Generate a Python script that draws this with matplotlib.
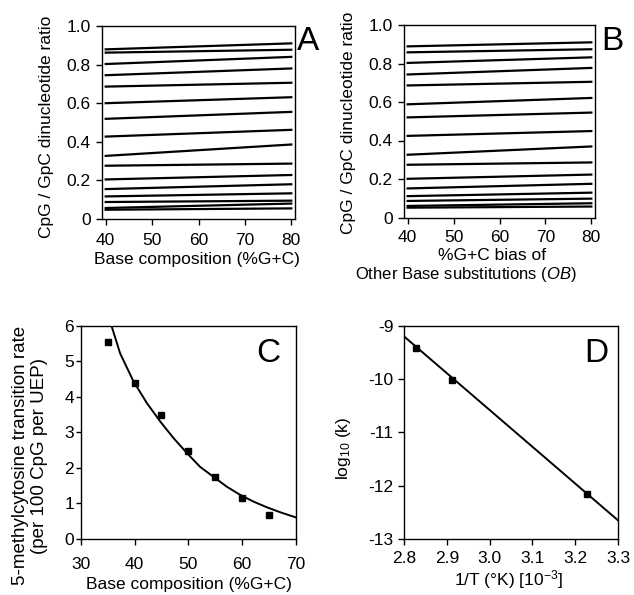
import matplotlib
matplotlib.use("Agg")
import matplotlib.pyplot as plt
import numpy as np

plt.rcParams['font.family'] = ['Liberation Sans', 'DejaVu Sans']
plt.rcParams['axes.unicode_minus'] = False
plt.rcParams['mathtext.fontset'] = 'custom'
plt.rcParams['mathtext.rm'] = 'Liberation Sans'
plt.rcParams['mathtext.it'] = 'Liberation Sans:italic'

# Panel A: CpG/GpC ratio lines vs base composition
a_x = [40, 80]
a_left = [0.879, 0.862, 0.803, 0.745, 0.686, 0.600, 0.519, 0.427, 0.327, 0.276,
          0.205, 0.155, 0.117, 0.088, 0.057, 0.048]
a_right = [0.910, 0.877, 0.840, 0.780, 0.706, 0.631, 0.555, 0.462, 0.386, 0.287,
           0.228, 0.180, 0.133, 0.095, 0.080, 0.055]

# Panel B: CpG/GpC ratio lines vs OB bias
b_x = [40, 80]
b_left = [0.889, 0.858, 0.803, 0.743, 0.686, 0.588, 0.520, 0.424, 0.326, 0.274,
          0.201, 0.151, 0.111, 0.086, 0.060, 0.051]
b_right = [0.910, 0.874, 0.832, 0.777, 0.705, 0.621, 0.545, 0.449, 0.369, 0.286,
           0.223, 0.175, 0.129, 0.098, 0.074, 0.057]

# Panel C: 5-methylcytosine transition rate
c_x = [35, 40, 45, 50, 55, 60, 65]
c_y = [5.53, 4.40, 3.49, 2.48, 1.74, 1.16, 0.67]
c_fit_x = [35.7, 37.3, 39.8, 42.3, 44.8, 47.3, 49.8, 52.2, 54.7, 57.2,
           59.7, 62.2, 64.7, 67.2, 70.0]
c_fit_y = [5.99, 5.22, 4.43, 3.82, 3.30, 2.83, 2.41, 2.03, 1.75, 1.47,
           1.24, 1.05, 0.89, 0.75, 0.61]

# Panel D: Arrhenius plot
d_x = [2.829, 2.913, 3.228]
d_y = [-9.41, -10.01, -12.15]
d_fit_x = [2.8, 3.3]
d_fit_y = [-9.2, -12.65]

W, H = 634, 595
fig = plt.figure(figsize=(W / 100, H / 100), dpi=100)

def ax_at(l, r, t, b):
    return fig.add_axes([l / W, 1 - b / H, (r - l) / W, (b - t) / H])

FS = 12.5

def style(ax, xpad, ypad, ylen=4.5):
    for s in ax.spines.values():
        s.set_linewidth(1.0)
    ax.tick_params(direction='out', width=1.0, labelsize=FS, top=False, right=False)
    ax.tick_params(axis='x', length=4.5, pad=xpad)
    ax.tick_params(axis='y', length=ylen, pad=ypad)

def place_labels(ax, xl, yl):
    ax.xaxis.set_label_coords(*xl)
    ax.xaxis.label.set_verticalalignment('center')
    ax.yaxis.set_label_coords(*yl)
    ax.yaxis.label.set_verticalalignment('center')

ratio_ticks = [0, 0.2, 0.4, 0.6, 0.8, 1.0]
ratio_labels = ['0', '0.2', '0.4', '0.6', '0.8', '1.0']

# A
axA = ax_at(102, 295, 26, 219)
for l, r in zip(a_left, a_right):
    axA.plot(a_x, [l, r], color='black', lw=1.6)
axA.set_xlim(39.2, 80.8)
axA.set_ylim(0, 1.0)
axA.set_xticks([40, 50, 60, 70, 80])
axA.set_yticks(ratio_ticks)
axA.set_yticklabels(ratio_labels)
axA.set_xlabel('Base composition (%G+C)', fontsize=FS)
axA.set_ylabel('CpG / GpC dinucleotide ratio', fontsize=FS)
style(axA, 5.5, 3.5)
place_labels(axA, (0.492, -0.212), (-0.285, 0.48))
fig.text(297 / W, 1 - 41 / H, 'A', fontsize=24, va='center', ha='left')

# B
axB = ax_at(404, 595, 25, 217.5)
for l, r in zip(b_left, b_right):
    axB.plot(b_x, [l, r], color='black', lw=1.6)
axB.set_xlim(39.2, 80.8)
axB.set_ylim(0, 1.0)
axB.set_xticks([40, 50, 60, 70, 80])
axB.set_yticks(ratio_ticks)
axB.set_yticklabels(ratio_labels)
axB.set_xlabel('%G+C bias of', fontsize=12.5)
axB.set_ylabel('CpG / GpC dinucleotide ratio', fontsize=FS)
style(axB, 4.5, 3.5)
place_labels(axB, ((492 - 404) / 191, -(256 - 217.5) / 192.5), (-0.293, 0.49))
axB.text((466 - 404) / 191, -(275 - 217.5) / 192.5,
         'Other Base substitutions ($\\mathit{OB}$)', transform=axB.transAxes,
         fontsize=12, ha='center', va='center')
fig.text(601 / W, 1 - 41 / H, 'B', fontsize=24, va='center', ha='left')

# C
axC = ax_at(81, 295.5, 325.7, 539)
axC.plot(c_fit_x, c_fit_y, color='black', lw=1.4)
axC.plot(c_x, c_y, 's', color='black', ms=4.5)
axC.set_xlim(30, 70)
axC.set_ylim(0, 6)
axC.set_xticks([30, 40, 50, 60, 70])
axC.set_yticks([0, 1, 2, 3, 4, 5, 6])
axC.set_xlabel('Base composition (%G+C)', fontsize=FS)
axC.set_ylabel('5-methylcytosine transition rate\n(per 100 CpG per UEP)',
               fontsize=13.5, linespacing=1.1)
style(axC, 8.5, 1.5, ylen=3.5)
place_labels(axC, (0.501, -(584 - 539) / 213.3), (-0.238, 0.39))
axC.text(0.93, 0.87, 'C', transform=axC.transAxes, fontsize=24, ha='right', va='center')

# D
axD = ax_at(404, 618, 325.7, 539)
axD.plot(d_fit_x, d_fit_y, color='black', lw=1.4)
axD.plot(d_x, d_y, 's', color='black', ms=5)
axD.set_xlim(2.8, 3.3)
axD.set_ylim(-13, -9)
axD.set_xticks([2.8, 2.9, 3.0, 3.1, 3.2, 3.3])
axD.set_xticklabels(['2.8', '2.9', '3.0', '3.1', '3.2', '3.3'])
axD.set_yticks([-13, -12, -11, -10, -9])
axD.set_yticklabels(['-13', '-12', '-11', '-10', '-9'])
axD.set_xlabel('1/T (°K) [10$^{-3}$]', fontsize=FS)
axD.set_ylabel('log$_{10}$ (k)', fontsize=FS)
style(axD, 4.0, 3.0)
place_labels(axD, (0.49, -(580 - 539) / 213.3), (-0.283, 0.427))
axD.text(0.955, 0.87, 'D', transform=axD.transAxes, fontsize=24, ha='right', va='center')

fig.savefig('out.png', dpi=100)
